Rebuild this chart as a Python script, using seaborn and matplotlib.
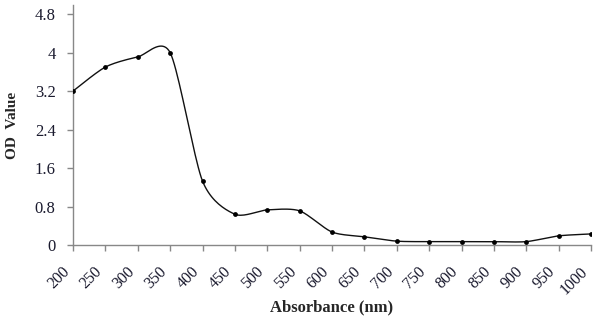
import numpy as np
import pandas as pd
import matplotlib
matplotlib.use("Agg")
import matplotlib.pyplot as plt
import seaborn as sns

# wavelength readings and OD values
wavelength = [200, 250, 300, 350, 400, 450, 500, 550, 600,
              650, 700, 750, 800, 850, 900, 950, 1000]
od_value = [3.20, 3.70, 3.91, 4.00, 1.33, 0.64, 0.73, 0.71, 0.27,
            0.17, 0.08, 0.07, 0.07, 0.07, 0.07, 0.19, 0.23]
y_ticks = [0, 0.8, 1.6, 2.4, 3.2, 4, 4.8]
y_tick_labels = ["0", "0.8", "1.6", "2.4", "3.2", "4", "4.8"]

df = pd.DataFrame({"wavelength": wavelength, "od": od_value})


def smooth_line(x, y, k=0.13, n=20):
    # Excel-style smoothed line (cardinal bezier through the points)
    x = np.asarray(x, float)
    y = np.asarray(y, float)
    px = np.concatenate([[x[0]], x, [x[-1]]])
    py = np.concatenate([[y[0]], y, [y[-1]]])
    xs, ys = [], []
    t = np.linspace(0, 1, n, endpoint=False)
    for i in range(1, len(px) - 2):
        p0, p1, p2, p3 = px[i - 1], px[i], px[i + 1], px[i + 2]
        q0, q1, q2, q3 = py[i - 1], py[i], py[i + 1], py[i + 2]
        c1x, c1y = p1 + (p2 - p0) * k, q1 + (q2 - q0) * k
        c2x, c2y = p2 - (p3 - p1) * k, q2 - (q3 - q1) * k
        bx = (1 - t) ** 3 * p1 + 3 * (1 - t) ** 2 * t * c1x + 3 * (1 - t) * t ** 2 * c2x + t ** 3 * p2
        by = (1 - t) ** 3 * q1 + 3 * (1 - t) ** 2 * t * c1y + 3 * (1 - t) * t ** 2 * c2y + t ** 3 * q2
        xs.extend(bx)
        ys.extend(by)
    xs.append(x[-1])
    ys.append(y[-1])
    return pd.DataFrame({"wavelength": xs, "od": ys})


sns.set_style("white")
plt.rcParams["font.family"] = ["Liberation Serif", "DejaVu Serif"]

fig = plt.figure(figsize=(6, 3.17), dpi=100)
ax = fig.add_axes([73 / 600, 72 / 317, 518 / 600, 240 / 317])

curve = smooth_line(df["wavelength"], df["od"])
sns.lineplot(data=curve, x="wavelength", y="od", color="#111111", linewidth=1.0,
             sort=False, ax=ax)
sns.scatterplot(data=df, x="wavelength", y="od", color="black", s=12,
                edgecolor="black", linewidth=0, zorder=3, ax=ax)

ax.set_xlim(200, 1000)
ax.set_ylim(0, 4.99)
ax.set_xticks(wavelength)
ax.set_xticklabels([str(w) for w in wavelength], rotation=45, ha="right",
                   fontsize=11.5, color="#1a1a2e")
ax.set_yticks(y_ticks)
ax.set_yticklabels(y_tick_labels, fontsize=12, color="#1a1a2e")

for side in ["top", "right"]:
    ax.spines[side].set_visible(False)
for side in ["left", "bottom"]:
    ax.spines[side].set_color("#888888")
    ax.spines[side].set_linewidth(1.0)
ax.tick_params(axis="both", direction="out", length=4.5, width=1,
               color="#888888", left=True, bottom=True)
ax.tick_params(axis="y", pad=8)
ax.tick_params(axis="x", pad=9)

ax.set_xlabel("Absorbance (nm)", fontsize=12, fontweight="bold")
ax.xaxis.set_label_coords(0.5, -0.228)
ax.set_ylabel("OD  Value", fontsize=11, fontweight="bold")
ax.yaxis.set_label_coords(-0.104, 0.5)

fig.savefig("out.png", dpi=100)
